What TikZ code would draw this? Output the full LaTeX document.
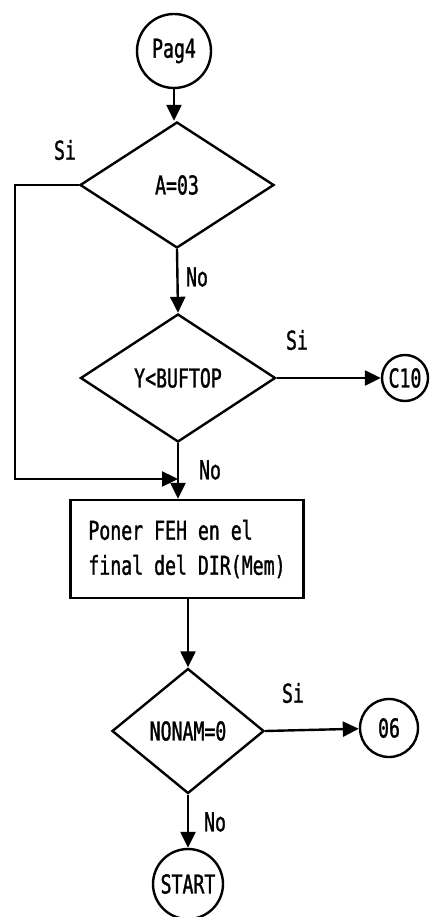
\documentclass[tikz,border=0pt]{standalone}
\usepackage{fontspec}
\newfontfamily\plotter[FakeStretch=0.7,FakeBold=1.2]{DejaVu Sans Mono}
\usetikzlibrary{arrows.meta,shapes.geometric}
\tikzset{
  flw/.style={-{Triangle[length=16pt,width=15pt]}, line width=2.4pt},
  txt/.style={font=\plotter\fontsize{26}{35}\selectfont, inner sep=0pt},
  dec/.style={diamond, draw, line width=2.4pt, txt},
  con/.style={circle, draw, line width=2.4pt, txt},
  prc/.style={rectangle, draw, line width=2.4pt, txt, align=left},
}
\begin{document}
\begin{tikzpicture}[x=1pt,y=-1pt]
  \useasboundingbox (0,0) rectangle (439,917);
  \node[con, minimum size=74pt] (pag) at (174,51) {Pag4};
  \node[dec, minimum width=194pt, minimum height=126pt] (ceq) at (177,185) {A=03};
  \node[dec, minimum width=195pt, minimum height=128pt] (cbuf) at (178,378) {Y<BUFTOP};
  \node[con, minimum size=46pt] (c10) at (405,378) {C10};
  \node[prc, minimum width=233pt, minimum height=98pt] (put) at (187,549) {Poner FEH en el\\final del DIR(Mem)};
  \node[dec, minimum width=152pt, minimum height=125pt] (cnon) at (188,731) {NONAM=0};
  \node[con, minimum size=58pt] (c06) at (389,728) {06};
  \node[con, minimum size=70pt] (fin) at (188,884) {START};
  \coordinate (lft) at (15,0);
  \coordinate (mrg) at (178,479);
  \node[txt] (si1) at (65,150) {Si};
  \node[txt] (no1) at (197,277) {No};
  \node[txt] (si2) at (297,340) {Si};
  \node[txt] (no2) at (210,470) {No};
  \node[txt] (si3) at (293,693) {Si};
  \node[txt] (no3) at (215,822) {No};
  \draw[flw] (pag) -- (pag |- ceq.north);
  \draw[flw] (ceq.south) -- (cbuf.north);
  \draw[flw] (ceq.west) -- (ceq.west -| lft) |- (mrg);
  \draw[flw] (cbuf.east) -- (c10);
  \draw[flw] (cbuf.south) -- (cbuf.south |- put.north);
  \draw[flw] (put.south -| cnon) -- (cnon.north);
  \draw[flw] (cnon.east) -- (c06);
  \draw[flw] (cnon.south) -- (fin);
\end{tikzpicture}
\end{document}
